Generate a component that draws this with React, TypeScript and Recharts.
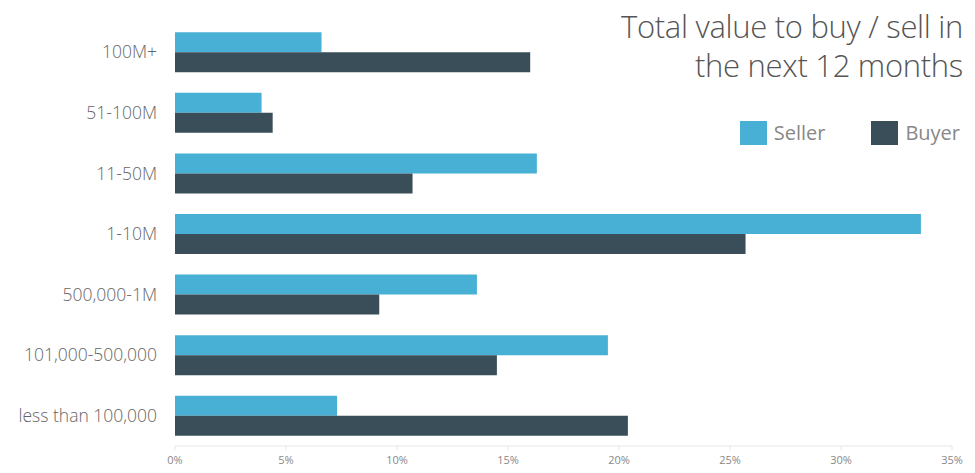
import React from 'react';
import { BarChart, Bar, XAxis, YAxis } from 'recharts';

const categories = [
  '100M+',
  '51-100M',
  '11-50M',
  '1-10M',
  '500,000-1M',
  '101,000-500,000',
  'less than 100,000',
];
const sellerValues = [6.6, 3.9, 16.3, 33.6, 13.6, 19.5, 7.3];
const buyerValues = [16.0, 4.4, 10.7, 25.7, 9.2, 14.5, 20.4];
const xTicks = [0, 5, 10, 15, 20, 25, 30, 35];
const seriesNames = ['Seller', 'Buyer'];

const SELLER = '#48b0d5';
const BUYER = '#3a4e59';
const FONT = '"Open Sans", "Noto Sans", sans-serif';

const data = categories.map((name, i) => ({
  name,
  seller: sellerValues[i],
  buyer: buyerValues[i],
}));

// legend sits on top of the chart, so it takes no room from the plot
const LegendBox = () => (
  <div
    style={{
      position: 'absolute',
      top: 119,
      right: 15,
      display: 'flex',
      alignItems: 'center',
      fontFamily: FONT,
      fontSize: 20,
      color: '#888',
      zIndex: 2,
    }}
  >
    <span style={{ width: 27, height: 24, background: SELLER, display: 'inline-block', marginRight: 7 }} />
    <span style={{ marginRight: 46 }}>{seriesNames[0]}</span>
    <span style={{ width: 27, height: 24, background: BUYER, display: 'inline-block', marginRight: 7 }} />
    <span>{seriesNames[1]}</span>
  </div>
);

const App: React.FC = () => {
  return (
    <div style={{ position: 'absolute', left: 0, top: 0, width: 975, height: 473, background: '#fff' }}>
      <div
        style={{
          position: 'absolute',
          right: 12,
          top: 7,
          textAlign: 'right',
          fontFamily: FONT,
          fontWeight: 300,
          fontSize: 31,
          lineHeight: '39px',
          letterSpacing: -0.3,
          color: '#555',
          zIndex: 2,
        }}
      >
        Total value to buy / sell in
        <br />
        the next 12 months
      </div>
      <LegendBox />
      <BarChart
        width={975}
        height={473}
        data={data}
        layout="vertical"
        margin={{ top: 22, right: 23, bottom: 0, left: 0 }}
        barCategoryGap="17%"
        barGap={0}
      >
        <XAxis
          type="number"
          domain={[0, 35]}
          ticks={xTicks}
          tickFormatter={(v) => `${v}%`}
          height={27}
          tickSize={4}
          tickMargin={6}
          stroke="#e6e6e6"
          tick={{ fill: '#888', fontSize: 11, fontFamily: FONT }}
        />
        <YAxis
          type="category"
          dataKey="name"
          width={175}
          tickLine={false}
          axisLine={false}
          tickSize={0}
          tickMargin={18}
          tick={{ fill: '#666', fontSize: 17.5, fontWeight: 300, fontFamily: FONT }}
        />
        <Bar dataKey="seller" name={seriesNames[0]} fill={SELLER} isAnimationActive={false} />
        <Bar dataKey="buyer" name={seriesNames[1]} fill={BUYER} isAnimationActive={false} />
      </BarChart>
    </div>
  );
};

export default App;
